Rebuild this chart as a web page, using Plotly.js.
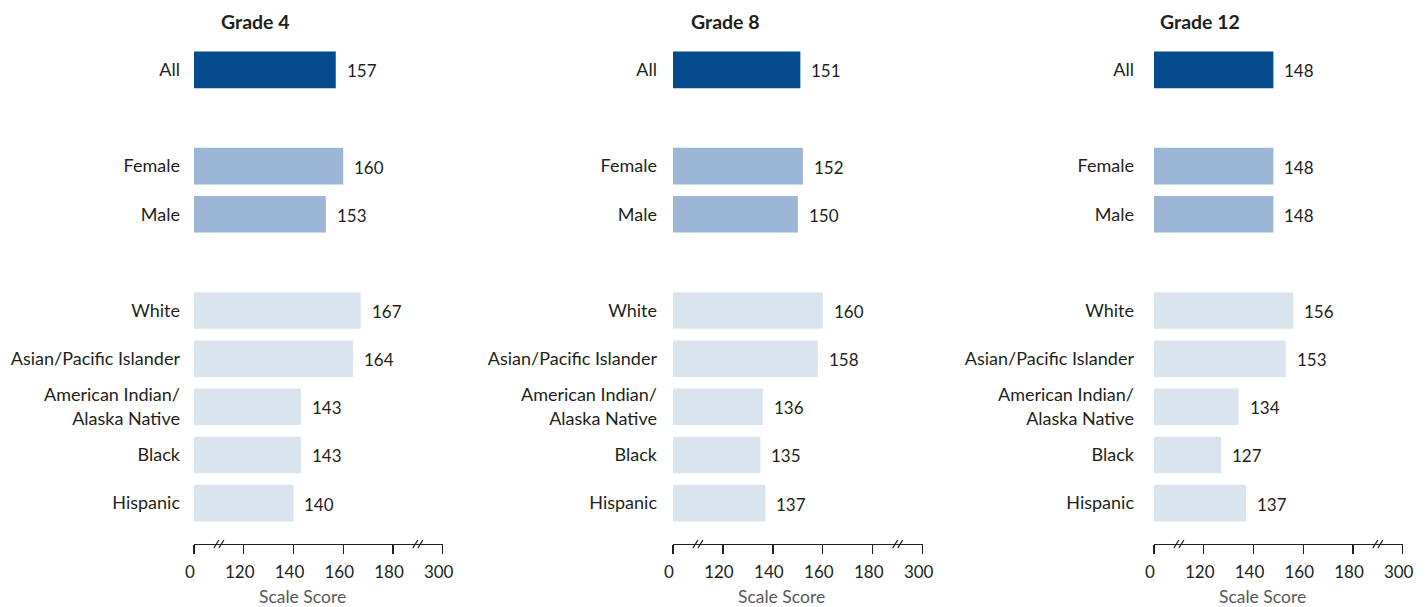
<!DOCTYPE html>
<html>
<head>
<meta charset="utf-8">
<script src="https://cdn.plot.ly/plotly-3.0.1.min.js"></script>
<style>html,body{margin:0;padding:0;background:#fff;}#chart{width:1426px;height:607px;}</style>
</head>
<body>
<div id="chart"></div>
<script>
// Categories (with blank spacer rows) top to bottom
const categories = ["All", " ", "Female", "Male", "  ", "White", "Asian/Pacific Islander", "American Indian/<br>Alaska Native", "Black", "Hispanic"];
const barCategories = ["All", "Female", "Male", "White", "Asian/Pacific Islander", "American Indian/<br>Alaska Native", "Black", "Hispanic"];
const grade4 = [157, 160, 153, 167, 164, 143, 143, 140];
const grade8 = [151, 152, 150, 160, 158, 136, 135, 137];
const grade12 = [148, 148, 148, 156, 153, 134, 127, 137];
const panelTitles = ["Grade 4", "Grade 8", "Grade 12"];
// Broken axis: 0 ... 120 140 160 180 ... 300
const tickVals = [100, 120, 140, 160, 180, 200];
const tickText = ["0", "120", "140", "160", "180", "300"];
const breakAt = [110, 190];

const colDark = "#034b8d", colMid = "#9ab6d4", colLight = "#dae4ef";
const barColors = [colDark, colMid, colMid, colLight, colLight, colLight, colLight, colLight];
const textColor = "#231f20";
const FONT = "Lato, 'Open Sans', sans-serif";

const W = 1426;
const domains = [[194 / W, 442.7 / W], [673 / W, 922.7 / W], [1154 / W, 1402.7 / W]];
const titleX = [219, 689, 1158];
const yStandoff = [13, 15, 19];
const series = [grade4, grade8, grade12];

const data = [];
const annotations = [];
const shapes = [];
const layout = {
  width: 1426, height: 607,
  margin: {l: 0, r: 0, t: 41, b: 63, pad: 0},
  paper_bgcolor: "#fff", plot_bgcolor: "#fff",
  showlegend: false,
  font: {family: FONT, color: textColor, size: 18},
  bargap: 0.24
};

series.forEach((vals, i) => {
  const sfx = i === 0 ? "" : String(i + 1);
  const xa = "x" + sfx, ya = "y" + sfx;
  data.push({
    type: "bar", orientation: "h",
    x: vals, y: barCategories,
    xaxis: xa, yaxis: ya,
    width: 0.76,
    marker: {color: barColors, line: {width: 0}},
    hoverinfo: "skip"
  });
  layout["xaxis" + sfx] = {
    domain: domains[i], anchor: ya,
    range: [100, 200], fixedrange: true,
    tickmode: "array", tickvals: tickVals, ticktext: tickText,
    ticks: "outside", ticklen: 9, tickwidth: 1.3, tickcolor: textColor,
    showline: true, linecolor: textColor, linewidth: 1.3,
    showgrid: false, zeroline: false,
    tickfont: {family: FONT, size: 17, color: textColor},
    ticklabelshift: -4, ticklabelstandoff: 3
  };
  layout["yaxis" + sfx] = {
    domain: [0, 1], anchor: xa,
    type: "category", categoryorder: "array", categoryarray: categories,
    range: [9.85, -0.6], fixedrange: true,
    showline: false, showgrid: false, zeroline: false, ticks: "",
    tickfont: {family: FONT, size: 18, color: textColor},
    ticklabelstandoff: yStandoff[i]
  };
  // value labels
  vals.forEach((v, k) => {
    annotations.push({
      xref: xa, yref: ya, x: v, y: barCategories[k],
      text: String(v), showarrow: false,
      xanchor: "left", yanchor: "middle", xshift: 9, yshift: -1,
      font: {family: FONT, size: 17, color: textColor}
    });
  });
  // panel title
  annotations.push({
    xref: "paper", yref: "paper", x: titleX[i] / W, y: 1.0378,
    text: "<b>" + panelTitles[i] + "</b>", showarrow: false,
    xanchor: "left", yanchor: "middle",
    font: {family: FONT, size: 19.5, color: textColor}
  });
  // axis label
  annotations.push({
    xref: xa, yref: "paper", x: 143.5, y: -0.1034,
    text: "Scale Score", showarrow: false,
    xanchor: "center", yanchor: "middle",
    font: {family: FONT, size: 17.5, color: "#58595b"}
  });
  // axis break marks "//"
  breakAt.forEach(b => {
    [-2.5, 2.5].forEach(off => {
      shapes.push({
        type: "line", xref: xa, yref: ya + " domain",
        xsizemode: "pixel", xanchor: b, x0: off - 2.5, x1: off + 2.5,
        ysizemode: "pixel", yanchor: 0, y0: -4, y1: 4,
        line: {color: textColor, width: 1.3}
      });
    });
  });
});

layout.annotations = annotations;
layout.shapes = shapes;

Plotly.newPlot("chart", data, layout, {displayModeBar: false, staticPlot: true});
</script>
</body>
</html>
